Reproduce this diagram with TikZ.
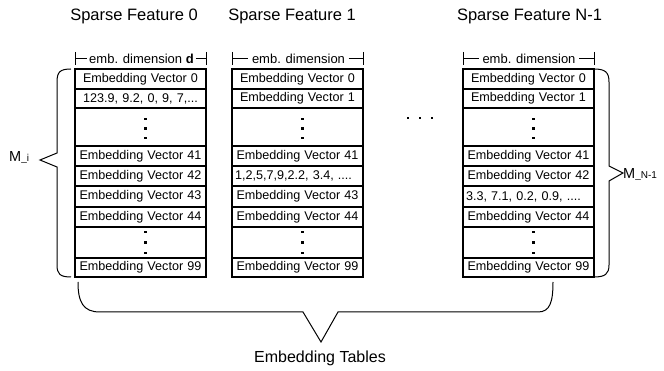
\documentclass[tikz,border=0pt]{standalone}
\usepackage{fontspec}
\setmainfont{Liberation Sans}
\usetikzlibrary{calc}
\begin{document}
\begin{tikzpicture}[x=1pt,y=-1pt,
  cell/.style={draw, line width=1.2pt, text width=125pt, inner xsep=3pt, inner ysep=0pt, outer sep=0pt, anchor=north west, font=\fontsize{12.6}{14}\selectfont},
  dotsq/.style={fill, draw=none, inner sep=0pt, minimum size=2.8pt},
  title/.style={anchor=base, font=\fontsize{16.5}{19}\selectfont},
  head/.style={inner xsep=2pt, inner ysep=0pt, font=\fontsize{13}{15}\selectfont},
  bar/.style={line width=0.9pt},
  brace/.style={line width=1pt}
]
\useasboundingbox (0,0) rectangle (664,371);

% titles
\node[title] (s0) at (134,21) {Sparse Feature 0};
\node[title] (s1) at (292,21) {Sparse Feature 1};
\node[title] (s2) at (529.5,21) {Sparse Feature N-1};

% headers
\node[head] (h0) at (141.5,58.5) {emb. dimension \textbf{d}};
\node[head, inner xsep=3.5pt] (h1) at (298.5,58.5) {emb. dimension};
\node[head, inner xsep=3.5pt] (h2) at (529,58.5) {emb. dimension};
\foreach \n/\l/\r in {h0/75/206, h1/232/363, h2/463/594}{
  \coordinate (\n l) at (\l,58.5);
  \coordinate (\n r) at (\r,58.5);
  \draw[bar] ([yshift=6.5pt]\n l) -- ([yshift=-6.5pt]\n l);
  \draw[bar] ([yshift=6.5pt]\n r) -- ([yshift=-6.5pt]\n r);
  \draw[bar] (\n l) -- (\n.west);
  \draw[bar] (\n.east) -- (\n r);
}

% table 0
\foreach \i/\t/\h/\s/\txt in {
  0/69/20/center/{Embedding Vector 0},
  1/89/19/center/{123.9, 9.2, 0, 9, 7,...},
  2/108/38/center/{},
  3/146/20/center/{Embedding Vector 41},
  4/166/20/center/{Embedding Vector 42},
  5/186/21/center/{Embedding Vector 43},
  6/207/20/center/{Embedding Vector 44},
  7/227/31/center/{},
  8/258/19/center/{Embedding Vector 99}}{
  \node[cell, align=\s, minimum height=\h pt] (a\i) at (75,\t) {\txt};
}
% table 1
\foreach \i/\t/\h/\s/\txt in {
  0/69/20/center/{Embedding Vector 0},
  1/89/19/center/{Embedding Vector 1},
  2/108/38/center/{},
  3/146/20/center/{Embedding Vector 41},
  4/166/20/left/{1,2,5,7,9,2.2, 3.4, ....},
  5/186/21/center/{Embedding Vector 43},
  6/207/20/center/{Embedding Vector 44},
  7/227/31/center/{},
  8/258/19/center/{Embedding Vector 99}}{
  \node[cell, align=\s, minimum height=\h pt] (b\i) at (232,\t) {\txt};
}
% table N-1
\foreach \i/\t/\h/\s/\txt in {
  0/69/20/center/{Embedding Vector 0},
  1/89/19/center/{Embedding Vector 1},
  2/108/38/center/{},
  3/146/20/center/{Embedding Vector 41},
  4/166/20/center/{Embedding Vector 42},
  5/186/21/left/{3.3, 7.1, 0.2, 0.9, ....},
  6/207/20/center/{Embedding Vector 44},
  7/227/31/center/{},
  8/258/19/center/{Embedding Vector 99}}{
  \node[cell, align=\s, minimum height=\h pt] (c\i) at (463,\t) {\txt};
}

% vertical dots
\foreach \tb in {a,b,c}{
  \foreach \dy [count=\k] in {-8,1.5,11}
    \node[dotsq] (\tb2d\k) at ($(\tb2.center)+(5,\dy)$) {};
  \foreach \dy [count=\k] in {-10.5,0,10.5}
    \node[dotsq] (\tb7d\k) at ($(\tb7.center)+(5,\dy)$) {};
}

% horizontal ellipsis between tables
\foreach \x [count=\k] in {408,420,432}
  \node[dotsq] (el\k) at (\x,118) {};

% left brace M_i
\coordinate (lbt) at (71,69);
\coordinate (lbb) at (71,277);
\coordinate (lbtip) at (40,160);
\draw[brace] (lbt) .. controls (60,69) and (57,72) .. (57,82) -- (57,153) -- (lbtip) -- (57,167) -- (57,265) .. controls (57,274) and (60,277) .. (lbb);
\node[anchor=base west, inner sep=0pt] (mi) at (9,161.5) {{\fontsize{14.5}{16}\selectfont M}{\fontsize{10}{12}\selectfont\_i}};

% right brace M_N-1
\coordinate (rbt) at (594,69);
\coordinate (rbb) at (594,277);
\coordinate (rbtip) at (623,173);
\draw[brace] (rbt) .. controls (605,69) and (609,72) .. (609,82) -- (609,166) -- (rbtip) -- (609,181) -- (609,265) .. controls (609,274) and (605,277) .. (rbb);
\node[anchor=base west, inner sep=0pt] (mn) at (623,178.5) {{\fontsize{14.5}{16}\selectfont M}{\fontsize{10}{12}\selectfont\_N-1}};

% bottom brace
\coordinate (bbl) at (78,282);
\coordinate (bbr) at (553,282);
\coordinate (bbtip) at (321,342);
\draw[brace] (bbl) .. controls (78,302) and (83,312) .. (100,312) -- (303,312) -- (bbtip) -- (338,312) -- (538,312) .. controls (550,312) and (553,302) .. (bbr);
\node[anchor=base, font=\fontsize{16}{19}\selectfont] (et) at (320,362) {Embedding Tables};
\end{tikzpicture}
\end{document}
